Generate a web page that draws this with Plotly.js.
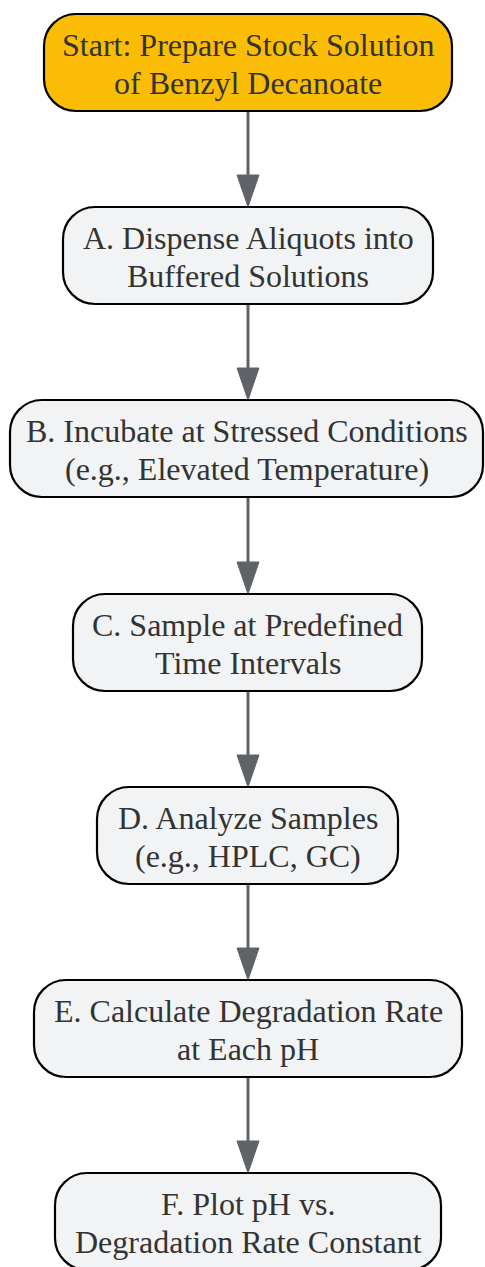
<!DOCTYPE html>
<html>
<head>
<meta charset="utf-8">
<script src="https://cdn.plot.ly/plotly-3.0.1.min.js"></script>
<style>html,body{margin:0;padding:0;background:#fff;}#chart{width:485px;height:1267px;}</style>
</head>
<body>
<div id="chart"></div>
<script>
// ---- data ----
var stepIds = ["Start", "A", "B", "C", "D", "E", "F"];
var stepLine1 = [
  "Start: Prepare Stock Solution",
  "A. Dispense Aliquots into",
  "B. Incubate at Stressed Conditions",
  "C. Sample at Predefined",
  "D. Analyze Samples",
  "E. Calculate Degradation Rate",
  "F. Plot pH vs."
];
var stepLine2 = [
  "of Benzyl Decanoate",
  "Buffered Solutions",
  "(e.g., Elevated Temperature)",
  "Time Intervals",
  "(e.g., HPLC, GC)",
  "at Each pH",
  "Degradation Rate Constant"
];
var edgesFrom = ["Start", "A", "B", "C", "D", "E"];
var edgesTo   = ["A", "B", "C", "D", "E", "F"];

// ---- layout geometry / styles ----
var W = 485, H = 1267;
var boxGeom = {
  Start: [44, 452, 14],
  A: [63, 433, 207],
  B: [10, 483, 400],
  C: [73, 422, 594],
  D: [97, 398, 787],
  E: [34, 462, 980],
  F: [55, 441, 1173]
};
var boxH = 97, radius = 32, cx = 248;
var fillStart = "#FBBC05", fillStep = "#F1F3F4";
var lineCol = "#5F6368", textCol = "#333333";
var fontFam = "'Liberation Serif', 'Times New Roman', serif", fontSize = 32;

function roundRect(x0, x1, y0, y1, r) {
  var k = 0.5523 * r;
  return "M" + (x0 + r) + "," + y0 +
    " L" + (x1 - r) + "," + y0 +
    " C" + (x1 - r + k) + "," + y0 + " " + x1 + "," + (y0 + r - k) + " " + x1 + "," + (y0 + r) +
    " L" + x1 + "," + (y1 - r) +
    " C" + x1 + "," + (y1 - r + k) + " " + (x1 - r + k) + "," + y1 + " " + (x1 - r) + "," + y1 +
    " L" + (x0 + r) + "," + y1 +
    " C" + (x0 + r - k) + "," + y1 + " " + x0 + "," + (y1 - r + k) + " " + x0 + "," + (y1 - r) +
    " L" + x0 + "," + (y0 + r) +
    " C" + x0 + "," + (y0 + r - k) + " " + (x0 + r - k) + "," + y0 + " " + (x0 + r) + "," + y0 + " Z";
}

var shapes = [], annotations = [];

// edges
for (var e = 0; e < edgesFrom.length; e++) {
  var a = boxGeom[edgesFrom[e]], b = boxGeom[edgesTo[e]];
  var yStart = a[2] + boxH, yTip = b[2];
  var headLen = 32, headHalf = 11;
  shapes.push({type: "line", xref: "x", yref: "y", x0: cx, x1: cx, y0: yStart, y1: yTip - headLen + 2,
    line: {color: lineCol, width: 3}});
  shapes.push({type: "path", xref: "x", yref: "y",
    path: "M" + (cx - headHalf) + "," + (yTip - headLen) + " L" + (cx + headHalf) + "," + (yTip - headLen) + " L" + cx + "," + yTip + " Z",
    fillcolor: lineCol, line: {color: lineCol, width: 1}});
}

// nodes
for (var i = 0; i < stepIds.length; i++) {
  var g = boxGeom[stepIds[i]];
  var y0 = g[2], y1 = g[2] + boxH;
  shapes.push({type: "path", xref: "x", yref: "y", path: roundRect(g[0], g[1], y0, y1, radius),
    fillcolor: i === 0 ? fillStart : fillStep, line: {color: "#000000", width: 2.2}});
  var mid = (y0 + y1) / 2 + 0.5, xm = (g[0] + g[1]) / 2;
  annotations.push({x: xm, y: mid - 18.5, xref: "x", yref: "y", text: stepLine1[i], showarrow: false,
    xanchor: "center", yanchor: "middle", font: {family: fontFam, size: fontSize, color: textCol}});
  annotations.push({x: xm, y: mid + 19.5, xref: "x", yref: "y", text: stepLine2[i], showarrow: false,
    xanchor: "center", yanchor: "middle", font: {family: fontFam, size: fontSize, color: textCol}});
}

var layout = {
  width: W, height: H,
  margin: {l: 0, r: 0, t: 0, b: 0, pad: 0},
  paper_bgcolor: "#ffffff", plot_bgcolor: "#ffffff",
  xaxis: {range: [0, W], visible: false, fixedrange: true},
  yaxis: {range: [H, 0], visible: false, fixedrange: true},
  showlegend: false,
  shapes: shapes,
  annotations: annotations
};
Plotly.newPlot("chart", [], layout, {displayModeBar: false, staticPlot: true});
</script>
</body>
</html>
